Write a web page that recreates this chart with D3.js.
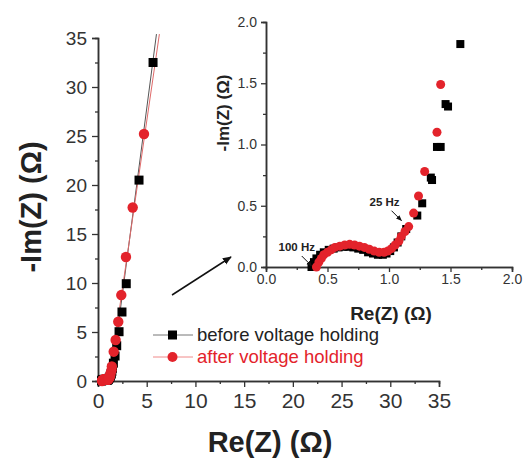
<!DOCTYPE html>
<html>
<head>
<meta charset="utf-8">
<script src="https://cdn.jsdelivr.net/npm/d3@7"></script>
<style>
  body { margin: 0; background: #fff; }
  text { font-family: "Liberation Sans", Arial, sans-serif; }
</style>
</head>
<body>
<div class="canvas"></div>
<script>
// data (Re, -Im in ohm)
const beforeLow = [
  [0.37, 0.0], [0.39, 0.04], [0.41, 0.07], [0.44, 0.10], [0.47, 0.12], [0.51, 0.14],
  [0.55, 0.15], [0.59, 0.16], [0.63, 0.165], [0.67, 0.165], [0.71, 0.16], [0.75, 0.15],
  [0.79, 0.14], [0.83, 0.12], [0.87, 0.11], [0.91, 0.10], [0.95, 0.10], [0.98, 0.11],
  [1.01, 0.13], [1.04, 0.16], [1.07, 0.20], [1.10, 0.25], [1.14, 0.31], [1.23, 0.42],
  [1.27, 0.52], [1.34, 0.73], [1.35, 0.71], [1.39, 0.98], [1.42, 0.98], [1.46, 1.33],
  [1.48, 1.31], [1.58, 1.82]
]
const afterLow = [
  [0.41, 0.0], [0.43, 0.04], [0.45, 0.07], [0.47, 0.10], [0.50, 0.12], [0.53, 0.14],
  [0.56, 0.16], [0.60, 0.17], [0.64, 0.18], [0.68, 0.185], [0.72, 0.18], [0.76, 0.17],
  [0.80, 0.16], [0.84, 0.145], [0.88, 0.13], [0.92, 0.12], [0.96, 0.12], [0.99, 0.13],
  [1.02, 0.15], [1.05, 0.18], [1.08, 0.21], [1.10, 0.25], [1.13, 0.29], [1.16, 0.33],
  [1.20, 0.44], [1.24, 0.58], [1.29, 0.78], [1.39, 1.10], [1.42, 1.49]
]
const beforeHigh = [[1.75, 2.55], [1.92, 3.6], [2.16, 5.03], [2.46, 7.04], [2.9, 9.93], [4.21, 20.5], [5.65, 32.5]]
const afterHigh = [[1.61, 2.99], [1.81, 4.18], [2.08, 6.05], [2.39, 8.77], [2.87, 12.65], [3.56, 17.7], [4.72, 25.2]]
const beforeFit = [[1.4, 0.5], [6.0, 35.4]]
const afterFit = [[1.2, 0.5], [6.3, 35.4]]

const mainTicks = [0, 5, 10, 15, 20, 25, 30, 35]
const mainMinor = d3.range(2.5, 35, 5)
const insetTicks = [0, 0.5, 1.0, 1.5, 2.0]
const insetMinor = [0.25, 0.75, 1.25, 1.75]
const legendLabels = ['before voltage holding', 'after voltage holding']
const freqNotes = [
  { label: '100 Hz', at: [0.38, 0.0], dx: -16 },
  { label: '25 Hz', at: [1.11, 0.37], dx: -18 }
]

const red = '#e3232b'
const axisColor = '#333'

const svg = d3.select('.canvas')
  .append('svg')
  .attr('width', 526)
  .attr('height', 459)

svg.append('defs').append('marker')
  .attr('id', 'head')
  .attr('viewBox', '0 0 10 10')
  .attr('refX', 9).attr('refY', 5)
  .attr('markerWidth', 6).attr('markerHeight', 6)
  .attr('orient', 'auto')
  .append('path')
  .attr('d', 'M0,1 L10,5 L0,9 z')
  .attr('fill', '#111')

// main plot scales
const x = d3.scaleLinear().domain([0, 35]).range([98, 439])
const y = d3.scaleLinear().domain([0, 35]).range([381, 38])

// inset scales
const xi = d3.scaleLinear().domain([0, 2]).range([266, 512])
const yi = d3.scaleLinear().domain([0, 2]).range([267, 22])

const styleAxis = (g, size) => {
  g.select('.domain').attr('stroke', axisColor).attr('stroke-width', 1.5)
  g.selectAll('.tick line').attr('stroke', axisColor).attr('stroke-width', 1.3)
  g.selectAll('text').attr('fill', axisColor).style('font-size', size + 'px')
}

// main axes
svg.append('g')
  .attr('transform', `translate(0, ${y(0)})`)
  .call(d3.axisBottom(x).tickValues(mainMinor).tickSize(3).tickFormat(''))
  .call(g => styleAxis(g, 21))
svg.append('g')
  .attr('transform', `translate(0, ${y(0)})`)
  .call(d3.axisBottom(x).tickValues(mainTicks).tickSize(6).tickPadding(6).tickFormat(d3.format('d')))
  .call(g => styleAxis(g, 21))

svg.append('g')
  .attr('transform', `translate(${x(0)}, 0)`)
  .call(d3.axisLeft(y).tickValues(mainMinor).tickSize(3).tickFormat(''))
  .call(g => styleAxis(g, 19))
svg.append('g')
  .attr('transform', `translate(${x(0)}, 0)`)
  .call(d3.axisLeft(y).tickValues(mainTicks).tickSize(6).tickPadding(5).tickFormat(d3.format('d')))
  .call(g => styleAxis(g, 19))

// main axis titles
svg.append('text')
  .attr('x', 270).attr('y', 452)
  .attr('text-anchor', 'middle')
  .style('font-size', '29px').style('font-weight', 'bold')
  .attr('fill', '#222')
  .text('Re(Z) (Ω)')

svg.append('text')
  .attr('transform', 'translate(41, 207) rotate(-90)')
  .attr('text-anchor', 'middle')
  .style('font-size', '29px').style('font-weight', 'bold')
  .attr('fill', '#222')
  .text('-Im(Z) (Ω)')

// fit lines
const fitLine = d3.line().x(d => x(d[0])).y(d => y(d[1]))
svg.append('path').attr('d', fitLine(beforeFit))
  .attr('fill', 'none').attr('stroke', '#555').attr('stroke-width', 1)
svg.append('path').attr('d', fitLine(afterFit))
  .attr('fill', 'none').attr('stroke', '#e06a6a').attr('stroke-width', 1)

const drawSquares = (g, data, sx, sy, s) => {
  g.selectAll(null).data(data).enter()
    .append('rect')
      .attr('x', d => sx(d[0]) - s / 2)
      .attr('y', d => sy(d[1]) - s / 2)
      .attr('width', s).attr('height', s)
      .attr('fill', '#000')
}
const drawCircles = (g, data, sx, sy, r) => {
  g.selectAll(null).data(data).enter()
    .append('circle')
      .attr('cx', d => sx(d[0]))
      .attr('cy', d => sy(d[1]))
      .attr('r', r)
      .attr('fill', red)
}

// main plot markers (full spectrum)
const mainG = svg.append('g')
drawSquares(mainG, beforeLow.concat(beforeHigh), x, y, 9)
drawCircles(mainG, afterLow.concat(afterHigh), x, y, 5.2)

// inset axes
svg.append('g')
  .attr('transform', `translate(0, ${yi(0)})`)
  .call(d3.axisBottom(xi).tickValues(insetMinor).tickSize(3).tickFormat(''))
  .call(g => styleAxis(g, 14))
svg.append('g')
  .attr('transform', `translate(0, ${yi(0)})`)
  .call(d3.axisBottom(xi).tickValues(insetTicks).tickSize(5).tickPadding(2).tickFormat(d3.format('.1f')))
  .call(g => styleAxis(g, 14))

svg.append('g')
  .attr('transform', `translate(${xi(0)}, 0)`)
  .call(d3.axisLeft(yi).tickValues(insetMinor).tickSize(3).tickFormat(''))
  .call(g => styleAxis(g, 14))
svg.append('g')
  .attr('transform', `translate(${xi(0)}, 0)`)
  .call(d3.axisLeft(yi).tickValues(insetTicks).tickSize(5).tickPadding(4).tickFormat(d3.format('.1f')))
  .call(g => styleAxis(g, 14))

svg.append('text')
  .attr('x', 391).attr('y', 320)
  .attr('text-anchor', 'middle')
  .style('font-size', '19px').style('font-weight', 'bold')
  .attr('fill', '#222')
  .text('Re(Z) (Ω)')

svg.append('text')
  .attr('transform', 'translate(229, 113) rotate(-90)')
  .attr('text-anchor', 'middle')
  .style('font-size', '17px').style('font-weight', 'bold')
  .attr('fill', '#222')
  .text('-Im(Z) (Ω)')

// inset markers
const insetG = svg.append('g')
drawSquares(insetG, beforeLow, xi, yi, 8)
drawCircles(insetG, afterLow, xi, yi, 4.5)

// frequency annotations
freqNotes.forEach(({ label, at, dx }) => {
  const tx = xi(at[0]), ty = yi(at[1])
  svg.append('line')
    .attr('x1', tx - 11).attr('y1', ty - 11)
    .attr('x2', tx - 1).attr('y2', ty - 1)
    .attr('stroke', '#111').attr('stroke-width', 1)
    .attr('marker-end', 'url(#head)')
  svg.append('text')
    .attr('x', tx + dx).attr('y', ty - 16)
    .attr('text-anchor', 'middle')
    .style('font-size', '11.5px').style('font-weight', 'bold')
    .attr('fill', '#222')
    .text(label)
})

// pointer from main plot to the inset
svg.append('line')
  .attr('x1', 172).attr('y1', 295)
  .attr('x2', 231).attr('y2', 257)
  .attr('stroke', '#111').attr('stroke-width', 1.5)
  .attr('marker-end', 'url(#head)')

// legend
const legend = svg.append('g')
legendLabels.forEach((label, i) => {
  const ly = 335 + i * 22
  const col = i === 0 ? '#000' : red
  legend.append('line')
    .attr('x1', 153).attr('x2', 193).attr('y1', ly).attr('y2', ly)
    .attr('stroke', i === 0 ? '#777' : '#f08a8a').attr('stroke-width', 1)
  if (i === 0) {
    legend.append('rect').attr('x', 168).attr('y', ly - 4.5).attr('width', 9).attr('height', 9).attr('fill', col)
  } else {
    legend.append('circle').attr('cx', 172.5).attr('cy', ly).attr('r', 5).attr('fill', col)
  }
  legend.append('text')
    .attr('x', 197).attr('y', ly + 6)
    .style('font-size', '18.5px')
    .attr('fill', i === 0 ? '#222' : red)
    .text(label)
})
</script>
</body>
</html>
